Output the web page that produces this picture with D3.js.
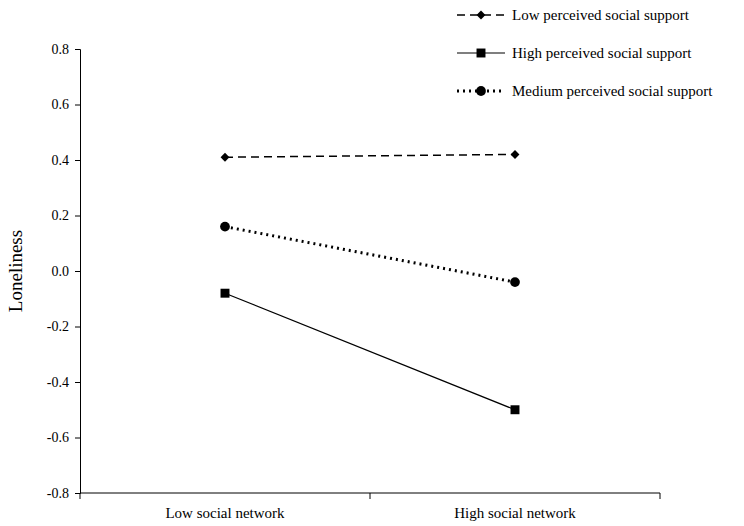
<!DOCTYPE html>
<html><head><meta charset="utf-8">
<script src="https://cdn.jsdelivr.net/npm/d3@7"></script>
<style>body{margin:0;background:#fff}text{font-family:"Liberation Serif","Times New Roman",serif;fill:#000}</style>
</head><body><svg id="c" width="744" height="526"></svg>
<script>
const categories = ['Low social network', 'High social network'];
const yTicks = [-0.8, -0.6, -0.4, -0.2, 0, 0.2, 0.4, 0.6, 0.8];
const lowSupport = [0.41, 0.42];
const highSupport = [-0.08, -0.50];
const mediumSupport = [0.16, -0.04];
const series = [
  { name: 'Low perceived social support', values: lowSupport, dash: '8,5', width: 1.5, symbol: 'diamond', size: 55 },
  { name: 'High perceived social support', values: highSupport, dash: null, width: 1.2, symbol: d3.symbolSquare, size: 80 },
  { name: 'Medium perceived social support', values: mediumSupport, dash: '2,4', width: 3, symbol: d3.symbolCircle, size: 75 },
];

// wider diamond than d3's default
const diamond = { draw(ctx, size) { const r = Math.sqrt(size) * 0.6; ctx.moveTo(0, -r); ctx.lineTo(r, 0); ctx.lineTo(0, r); ctx.lineTo(-r, 0); ctx.closePath(); } };
const sym = (s) => (s.symbol === 'diamond' ? diamond : s.symbol);

const svg = d3.select('#c');
const x = d3.scaleBand().domain(categories).range([80, 660]);
const y = d3.scaleLinear().domain([-0.8, 0.8]).range([493, 49]);

// y axis
svg.append('g').attr('transform', 'translate(80,0)')
  .call(d3.axisLeft(y).tickValues(yTicks).tickFormat((d) => d3.format('.1f')(d).replace('−', '-')).tickSize(5).tickPadding(6))
  .call((g) => g.selectAll('path,line').attr('stroke', '#000'))
  .call((g) => g.selectAll('text').attr('font-size', 14).attr('font-family', 'Liberation Sans, Arial, sans-serif'));

// x axis, ticks at band edges
svg.append('g').attr('transform', 'translate(0,493)')
  .call(d3.axisBottom(x).tickSize(0).tickPadding(14))
  .call((g) => g.select('.domain').attr('stroke', '#000').attr('d', 'M80,0H660'))
  .call((g) => g.selectAll('text').attr('font-size', 15));
svg.append('g').selectAll('line')
  .data([80, 80 + x.step(), 660])
  .join('line')
  .attr('x1', (d) => d).attr('x2', (d) => d)
  .attr('y1', 493).attr('y2', 499)
  .attr('stroke', '#000');

svg.append('text')
  .attr('transform', 'translate(22,271) rotate(-90)')
  .attr('text-anchor', 'middle')
  .attr('font-size', 19)
  .text('Loneliness');

const cx = (i) => x(categories[i]) + x.bandwidth() / 2;
const line = d3.line().x((d, i) => cx(i)).y((d) => y(d));

series.forEach((s) => {
  svg.append('path')
    .attr('d', line(s.values))
    .attr('fill', 'none')
    .attr('stroke', '#000')
    .attr('stroke-width', s.width)
    .attr('stroke-dasharray', s.dash);
  svg.append('g').selectAll('path')
    .data(s.values)
    .join('path')
    .attr('transform', (d, i) => `translate(${cx(i)},${y(d)})`)
    .attr('d', d3.symbol(sym(s), s.size));
});

// legend
const leg = svg.append('g').selectAll('g')
  .data(series)
  .join('g')
  .attr('transform', (d, i) => `translate(457,${15 + i * 38})`);
leg.append('line')
  .attr('x1', 0).attr('x2', 48)
  .attr('stroke', '#000')
  .attr('stroke-width', (d) => d.width)
  .attr('stroke-dasharray', (d) => d.dash);
leg.append('path')
  .attr('transform', 'translate(24,0)')
  .attr('d', (d) => d3.symbol(sym(d), d.size)());
leg.append('text')
  .attr('x', 55).attr('dy', '0.35em')
  .attr('font-size', 15)
  .text((d) => d.name);
</script></body></html>
